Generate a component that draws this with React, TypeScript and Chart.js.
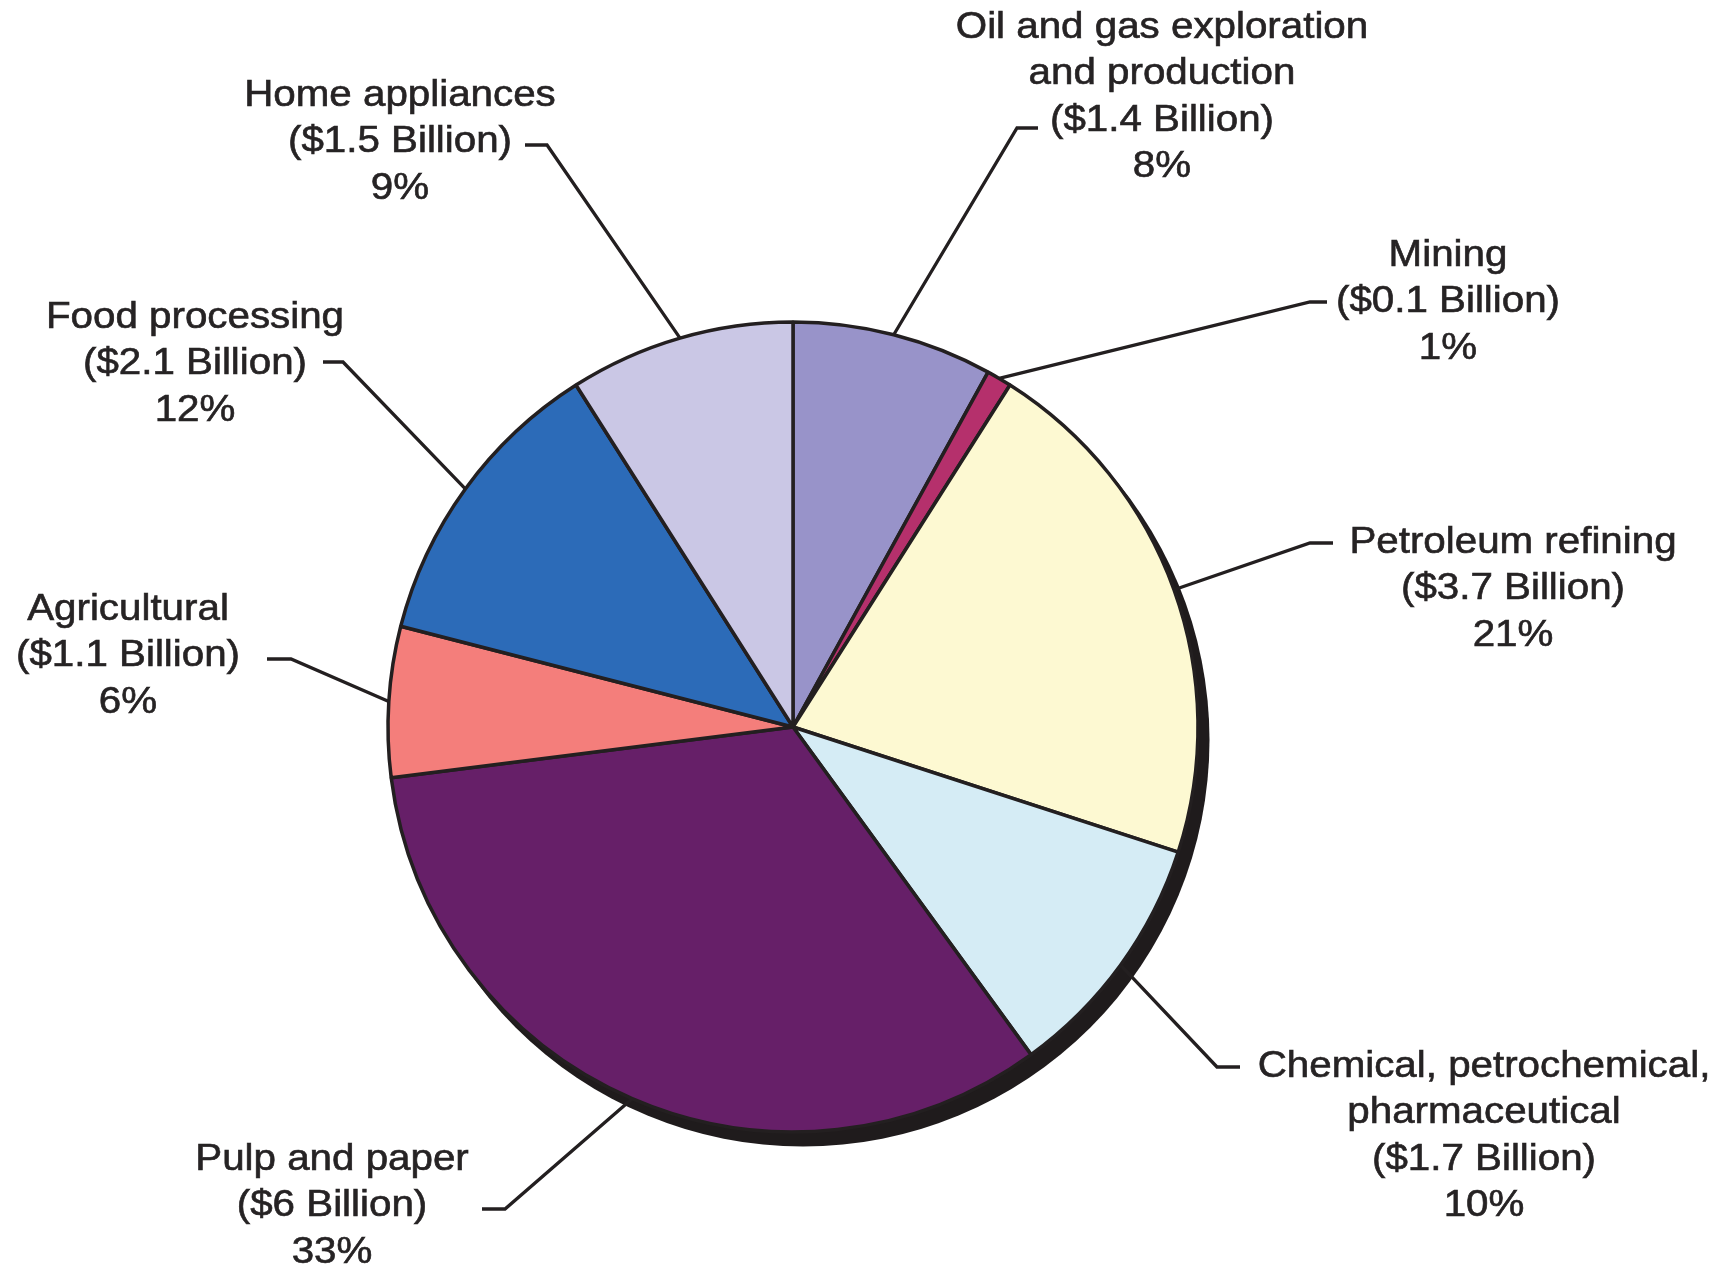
import React, { useEffect, useRef } from "react";
import { Chart, registerables } from "chart.js";

Chart.register(...registerables);

// ---- Data ----
const categories = [
  "Oil and gas exploration and production",
  "Mining",
  "Petroleum refining",
  "Chemical, petrochemical, pharmaceutical",
  "Pulp and paper",
  "Agricultural",
  "Food processing",
  "Home appliances",
];
const billions = [1.4, 0.1, 3.7, 1.7, 6, 1.1, 2.1, 1.5];
const percents = [8, 1, 21, 10, 33, 6, 12, 9];
const nameLines = [
  ["Oil and gas exploration", "and production"],
  ["Mining"],
  ["Petroleum refining"],
  ["Chemical, petrochemical,", "pharmaceutical"],
  ["Pulp and paper"],
  ["Agricultural"],
  ["Food processing"],
  ["Home appliances"],
];

// ---- Styles / layout ----
const colors = [
  "#9893c9",
  "#b5306c",
  "#fdf9d2",
  "#d5ecf5",
  "#661f68",
  "#f47e7b",
  "#2c6bb8",
  "#cac7e5",
];
const INK = "#231f20";
const PIE_RADIUS = 405;
const LINE_H = 46.5;
const FONT = '36px "Liberation Sans", Arial, sans-serif';
const X_STRETCH = 1.12;

// cx: text centre x, y0: first-line centre y, elbow and end of leader line
const labelLayout = [
  { cx: 1162, y0: 28, elbow: [1017, 128], end: [1038, 128] },
  { cx: 1448, y0: 256, elbow: [1310, 302], end: [1327, 302] },
  { cx: 1513, y0: 543, elbow: [1310, 543], end: [1333, 543] },
  { cx: 1484, y0: 1067, elbow: [1217, 1067], end: [1240, 1067] },
  { cx: 332, y0: 1160, elbow: [505, 1209], end: [482, 1209] },
  { cx: 128, y0: 610, elbow: [291, 659], end: [267, 659] },
  { cx: 195, y0: 318, elbow: [343, 362], end: [323, 362] },
  { cx: 400, y0: 96, elbow: [547, 145], end: [525, 145] },
];

const shadowPlugin = {
  id: "pieShadow",
  beforeDatasetsDraw(chart: any) {
    const arc = chart.getDatasetMeta(0).data[0];
    if (!arc) return;
    const { x, y, outerRadius } = arc.getProps(["x", "y", "outerRadius"], true);
    const ctx = chart.ctx;
    ctx.save();
    ctx.fillStyle = "#1f1b1c";
    ctx.beginPath();
    ctx.arc(x + 10, y + 13, outerRadius + 1.5, 0, Math.PI * 2);
    ctx.fill();
    ctx.restore();
  },
};

const labelPlugin = {
  id: "pieLabels",
  afterDatasetsDraw(chart: any) {
    const ctx = chart.ctx;
    const arcs = chart.getDatasetMeta(0).data;
    ctx.save();
    arcs.forEach((arc: any, i: number) => {
      const { x, y, startAngle, endAngle, outerRadius } = arc.getProps(
        ["x", "y", "startAngle", "endAngle", "outerRadius"],
        true
      );
      const mid = (startAngle + endAngle) / 2;
      const sx = x + Math.cos(mid) * outerRadius;
      const sy = y + Math.sin(mid) * outerRadius;
      const lay = labelLayout[i];
      ctx.strokeStyle = INK;
      ctx.lineWidth = 3.3;
      ctx.lineJoin = "miter";
      ctx.beginPath();
      ctx.moveTo(sx, sy);
      ctx.lineTo(lay.elbow[0], lay.elbow[1]);
      ctx.lineTo(lay.end[0], lay.end[1]);
      ctx.stroke();

      const lines = [
        ...nameLines[i],
        `($${billions[i]} Billion)`,
        `${percents[i]}%`,
      ];
      ctx.font = FONT;
      ctx.fillStyle = "#262324";
      ctx.strokeStyle = "#262324";
      ctx.lineWidth = 0.6;
      ctx.textAlign = "center";
      ctx.textBaseline = "middle";
      lines.forEach((t, k) => {
        ctx.save();
        ctx.translate(lay.cx, lay.y0 + k * LINE_H);
        ctx.scale(X_STRETCH, 1);
        ctx.fillText(t, 0, 0);
        ctx.strokeText(t, 0, 0);
        ctx.restore();
      });
    });
    ctx.restore();
  },
};

export default function App() {
  const canvasRef = useRef<HTMLCanvasElement | null>(null);

  useEffect(() => {
    if (!canvasRef.current) return;
    const chart = new Chart(canvasRef.current, {
      type: "pie",
      data: {
        labels: categories,
        datasets: [
          {
            data: percents,
            backgroundColor: colors,
            borderColor: INK,
            borderWidth: 3.5,
          },
        ],
      },
      options: {
        animation: false,
        responsive: true,
        maintainAspectRatio: false,
        radius: PIE_RADIUS,
        layout: { padding: { left: 0, right: 136, top: 183, bottom: 0 } },
        plugins: {
          legend: { display: false },
          tooltip: { enabled: false },
        },
        events: [],
      } as any,
      plugins: [shadowPlugin, labelPlugin],
    });
    return () => chart.destroy();
  }, []);

  return (
    <div
      style={{
        position: "absolute",
        left: 0,
        top: 0,
        width: 1722,
        height: 1271,
        background: "#fff",
      }}
    >
      <canvas ref={canvasRef} />
    </div>
  );
}
